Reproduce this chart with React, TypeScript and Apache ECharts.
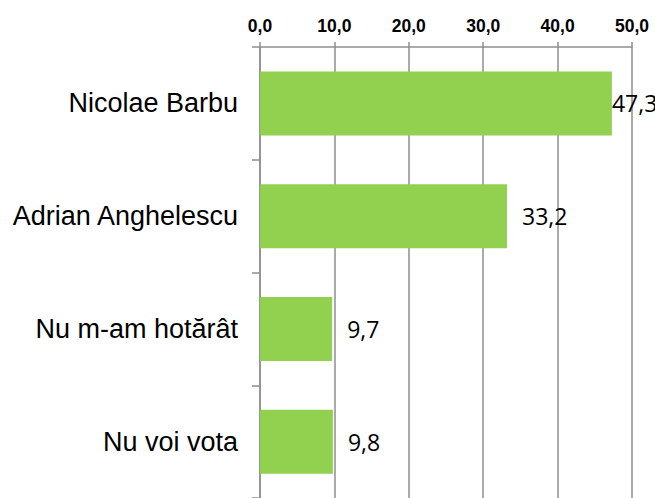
import React, { useEffect, useRef } from "react";
import * as echarts from "echarts";

const categories = ["Nicolae Barbu", "Adrian Anghelescu", "Nu m-am hotărât", "Nu voi vota"];
const values = [47.3, 33.2, 9.7, 9.8];
const labelDistances = [0, 15, 15, 15];
const axisMin = 0;
const axisMax = 50;
const axisStep = 10;

const fmt = (v: number) => v.toFixed(1).replace(".", ",");

export default function App() {
  const ref = useRef<HTMLDivElement>(null);
  useEffect(() => {
    if (!ref.current) return;
    const chart = echarts.init(ref.current, null, { renderer: "svg" });
    const gray = "#8e8e8e";
    chart.setOption({
      animation: false,
      backgroundColor: "#ffffff",
      grid: { left: 260, right: 23, top: 47, bottom: -6, containLabel: false },
      xAxis: {
        type: "value",
        position: "top",
        min: axisMin,
        max: axisMax,
        interval: axisStep,
        axisLine: { show: true, lineStyle: { color: gray, width: 1.5 } },
        axisTick: { show: true, inside: false, length: 5, lineStyle: { color: gray, width: 1.5 } },
        splitLine: { show: true, lineStyle: { color: gray, width: 1.5 } },
        axisLabel: {
          formatter: (v: number) => fmt(v),
          fontFamily: "Liberation Sans, Arial, sans-serif",
          fontWeight: "bold",
          fontSize: 17.5,
          color: "#000",
          margin: 12,
        },
      },
      yAxis: {
        type: "category",
        inverse: true,
        data: categories,
        axisLine: { show: true, lineStyle: { color: gray, width: 1.5 } },
        axisTick: { show: true, inside: false, length: 8, alignWithLabel: false, lineStyle: { color: gray, width: 1.5 } },
        axisLabel: {
          fontFamily: "Liberation Sans, Arial, sans-serif",
          fontSize: 27,
          color: "#000",
          margin: 22,
        },
      },
      series: [
        {
          type: "bar",
          barWidth: 64,
          itemStyle: { color: "#92D050" },
          data: values.map((v, i) => ({
            value: v,
            label: { distance: labelDistances[i] },
          })),
          label: {
            show: true,
            position: "right",
            formatter: (p: any) => fmt(p.value),
            fontFamily: "Open Sans, Noto Sans, sans-serif",
            fontSize: 23,
            color: "#000",
          },
        },
      ],
    });
    return () => chart.dispose();
  }, []);
  return (
    <div
      ref={ref}
      style={{ position: "fixed", left: 0, top: 0, width: 655, height: 498 }}
    />
  );
}
